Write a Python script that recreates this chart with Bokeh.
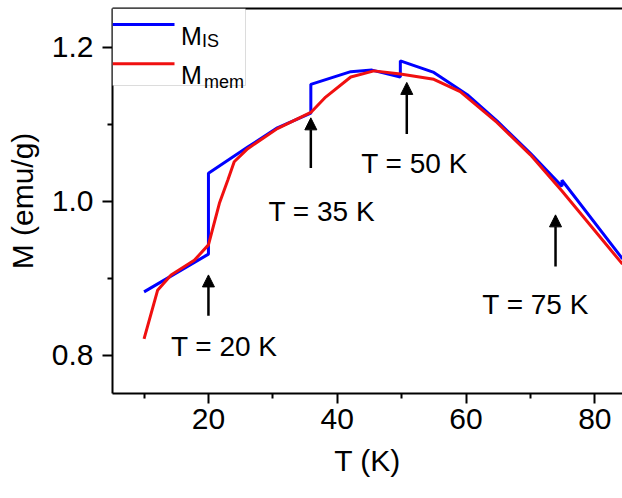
from bokeh.plotting import figure
from bokeh.models import (Range1d, Label, Arrow, NormalHead, BoxAnnotation,
                          LinearAxis, FixedTicker, PrintfTickFormatter)
from bokeh.embed import file_html
from bokeh.resources import INLINE

# ---- data ----
T_is = [10, 20, 20, 26.1, 30.7, 35.9, 35.9, 42.1, 45.4, 49.8, 49.8, 55.0, 60.2, 64.8, 70.0, 74.9, 74.9, 84.3]
M_is = [0.882, 0.931, 1.036, 1.070, 1.095, 1.114, 1.1515, 1.168, 1.170, 1.161, 1.182, 1.167, 1.138, 1.104, 1.062, 1.019, 1.027, 0.925]

T_mem = [10, 12.1, 14.2, 17.8, 20.0, 21.7, 23.0, 24.0, 26.1, 30.7, 35.9, 38.2, 42.1, 45.7, 49.8, 55.0, 59.1, 64.8, 70.0, 74.9, 84.3]
M_mem = [0.821, 0.884, 0.904, 0.923, 0.943, 0.997, 1.027, 1.051, 1.068, 1.094, 1.115, 1.135, 1.161, 1.169, 1.165, 1.158, 1.142, 1.102, 1.060, 1.013, 0.918]

arrow_T = [20.0, 35.9, 50.8, 73.9]
arrow_base = [0.851, 1.043, 1.087, 0.915]
arrow_tip = [0.904, 1.108, 1.154, 0.982]

note_T = [22.45, 37.6, 52.0, 70.8]
note_M = [0.811, 0.986, 1.049, 0.866]
note_text = ["T = 20 K", "T = 35 K", "T = 50 K", "T = 75 K"]

series_names = ["M", "M"]
series_subs = ["IS", "mem"]
series_colors = ["#0000FF", "#F01010"]

x_ticks = [20, 40, 60, 80]
x_minor = [10, 30, 50, 70]
y_ticks = [0.8, 1.0, 1.2]
y_minor = [0.9, 1.1]

FONT = "Liberation Sans"
X0, X1, Y0, Y1 = 5.1, 84.3, 0.75, 1.25

p = figure(width=622, height=498, x_range=Range1d(X0, X1), y_range=Range1d(Y0, Y1),
           output_backend="svg", toolbar_location=None,
           min_border_left=112, min_border_right=0, min_border_top=8, min_border_bottom=105)
p.grid.visible = False
p.outline_line_color = None
p.background_fill_color = "white"

p.xaxis.ticker = FixedTicker(ticks=x_ticks, minor_ticks=x_minor)
p.yaxis.ticker = FixedTicker(ticks=y_ticks, minor_ticks=y_minor)
p.yaxis.formatter = PrintfTickFormatter(format="%.1f")
p.xaxis.axis_label = "T (K)"
p.yaxis.axis_label = "M (emu/g)"
for ax in (p.xaxis[0], p.yaxis[0]):
    ax.axis_line_width = 2
    ax.axis_line_color = "black"
    ax.major_tick_line_width = 2
    ax.minor_tick_line_width = 2
    ax.major_tick_in = 0
    ax.major_tick_out = 10
    ax.minor_tick_in = 0
    ax.minor_tick_out = 5
    ax.major_label_text_font = FONT
    ax.major_label_text_font_size = "30px"
    ax.major_label_text_color = "black"
    ax.axis_label_text_font = FONT
    ax.axis_label_text_font_size = "30px"
    ax.axis_label_text_font_style = "normal"
    ax.axis_label_text_color = "black"
p.xaxis.major_label_standoff = 5
p.xaxis.axis_label_standoff = 12
p.yaxis.major_label_standoff = 9
p.yaxis.axis_label_standoff = 10

top_axis = LinearAxis(ticker=FixedTicker(ticks=[]), axis_line_width=2,
                      major_label_text_font_size="0px", major_tick_line_color=None,
                      minor_tick_line_color=None, major_label_standoff=0)
p.add_layout(top_axis, "above")

r_is = p.line(T_is, M_is, line_color=series_colors[0], line_width=3)
r_mem = p.line(T_mem, M_mem, line_color=series_colors[1], line_width=3)

for t, b, tip in zip(arrow_T, arrow_base, arrow_tip):
    p.add_layout(Arrow(end=NormalHead(size=12, fill_color="black", line_color="black"),
                       x_start=t, y_start=b, x_end=t, y_end=tip,
                       line_width=2.5, line_color="black"))

for t, m, s in zip(note_T, note_M, note_text):
    p.add_layout(Label(x=t, y=m, text=s, text_align="center", text_baseline="middle",
                       text_font=FONT, text_font_size="28px", text_color="black"))

# ---- hand-built legend (pixel offsets converted to data units) ----
px_x = (X1 - X0) / 510.0   # data units per pixel, x
px_y = (Y1 - Y0) / 385.0   # data units per pixel, y
box_right = X0 + 133 * px_x
box_bottom = Y1 - 77 * px_y
p.add_layout(BoxAnnotation(left=X0, right=box_right, top=Y1, bottom=box_bottom,
                           fill_color="white", fill_alpha=1.0,
                           line_color="#8a8a8a", line_width=1))
line_rows = [16, 55.3]      # pixel offsets from frame top of legend lines
base_rows = [27, 66]        # baselines of "M"
sub_rows = [32.7, 73.7]     # baselines of the subscripts
sub_left = [89.5, 91.5]
for i in range(2):
    ly = Y1 - line_rows[i] * px_y
    p.add_layout(Arrow(start=None, end=None, x_start=X0, y_start=ly,
                       x_end=X0 + 62 * px_x, y_end=ly,
                       line_color=series_colors[i], line_width=3))
    p.add_layout(Label(x=X0 + 68.5 * px_x, y=Y1 - base_rows[i] * px_y, text=series_names[i],
                       text_font=FONT, text_font_size="25px", text_color="black",
                       text_baseline="alphabetic", text_align="left"))
    p.add_layout(Label(x=X0 + sub_left[i] * px_x, y=Y1 - sub_rows[i] * px_y, text=series_subs[i],
                       text_font=FONT, text_font_size="18px", text_color="black",
                       text_baseline="alphabetic", text_align="left"))

open("out.html", "w").write(file_html(p, INLINE))
